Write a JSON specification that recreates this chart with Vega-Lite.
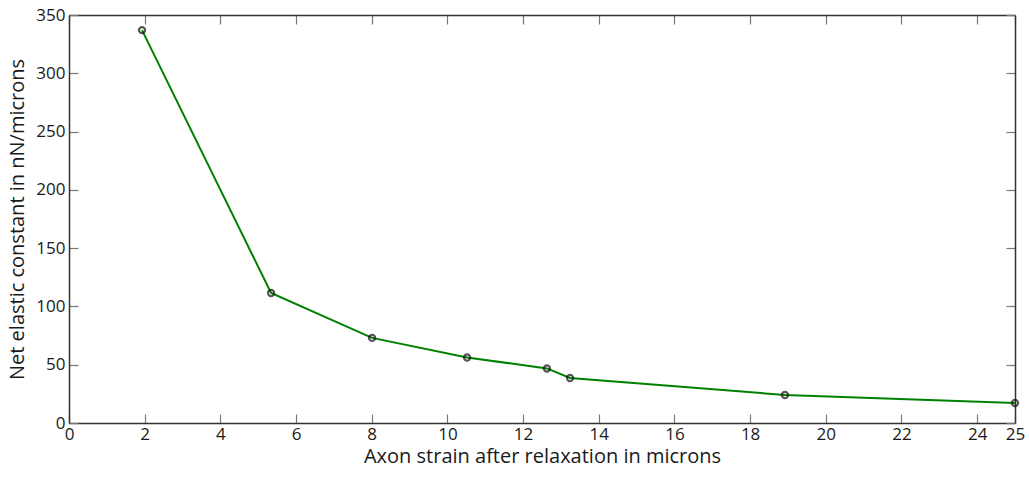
{
  "$schema": "https://vega.github.io/schema/vega-lite/v6.json",
  "autosize": "none",
  "width": 946,
  "height": 408,
  "padding": {"left": 69, "top": 15, "right": 14, "bottom": 54},
  "background": "white",
  "config": {
    "view": {"stroke": null},
    "font": "Open Sans",
    "axis": {
      "grid": false,
      "domainColor": "#333333",
      "domainWidth": 1.5,
      "tickColor": "#777777",
      "tickWidth": 1.2,
      "tickSize": -9,
      "labelFont": "Open Sans",
      "labelFontSize": 17,
      "labelColor": "#1a1a1a",
      "titleFont": "Open Sans",
      "titleFontSize": 20,
      "titleFontWeight": "normal",
      "titleColor": "#1a1a1a"
    }
  },
  "data": {
    "values": [
      {"strain": 1.93, "k": 337},
      {"strain": 5.34, "k": 111.5},
      {"strain": 8.01, "k": 73},
      {"strain": 10.52, "k": 56.2},
      {"strain": 12.63, "k": 46.8},
      {"strain": 13.24, "k": 38.6},
      {"strain": 18.92, "k": 24},
      {"strain": 25, "k": 17.2}
    ]
  },
  "resolve": {"axis": {"x": "independent", "y": "independent"}},
  "layer": [
    {
      "mark": {"type": "line", "color": "#008000", "strokeWidth": 2},
      "encoding": {
        "x": {
          "field": "strain", "type": "quantitative",
          "scale": {"domain": [0, 25], "nice": false, "zero": false},
          "axis": {
            "values": [0, 2, 4, 6, 8, 10, 12, 14, 16, 18, 20, 22, 24, 25],
            "title": "Axon strain after relaxation in microns",
            "labelPadding": 12,
            "titlePadding": 4,
            "labelFlush": false
          }
        },
        "y": {
          "field": "k", "type": "quantitative",
          "scale": {"domain": [0, 350], "nice": false},
          "axis": {
            "values": [0, 50, 100, 150, 200, 250, 300, 350],
            "title": "Net elastic constant in nN/microns",
            "labelPadding": 13,
            "titlePadding": 8,
            "labelFlush": false
          }
        }
      }
    },
    {
      "mark": {"type": "point", "filled": false, "stroke": "#111111", "strokeWidth": 2.2, "size": 38},
      "encoding": {
        "x": {"field": "strain", "type": "quantitative", "axis": null},
        "y": {"field": "k", "type": "quantitative", "axis": null}
      }
    },
    {
      "mark": {"type": "point", "opacity": 0},
      "encoding": {
        "x": {
          "field": "strain", "type": "quantitative",
          "axis": {"orient": "top", "labels": false, "title": null,
                   "values": [0, 2, 4, 6, 8, 10, 12, 14, 16, 18, 20, 22, 24, 25]}
        },
        "y": {
          "field": "k", "type": "quantitative",
          "axis": {"orient": "right", "labels": false, "title": null,
                   "values": [0, 50, 100, 150, 200, 250, 300, 350]}
        }
      }
    }
  ]
}
